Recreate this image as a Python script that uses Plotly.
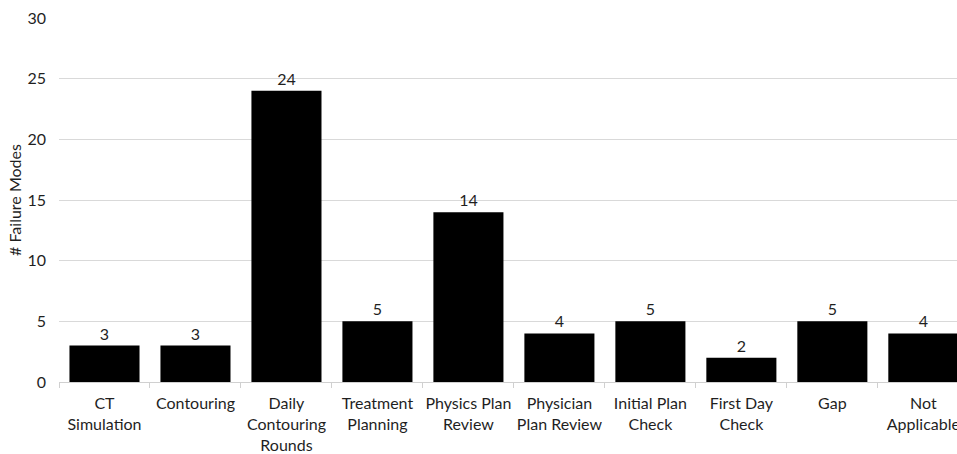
import plotly.graph_objects as go

categories = ["CT<br>Simulation", "Contouring", "Daily<br>Contouring<br>Rounds",
              "Treatment<br>Planning", "Physics Plan<br>Review", "Physician<br>Plan Review",
              "Initial Plan<br>Check", "First Day<br>Check", "Gap", "Not<br>Applicable"]
values = [3, 3, 24, 5, 14, 4, 5, 2, 5, 4]
y_ticks = [0, 5, 10, 15, 20, 25, 30]

font_family = "Lato, Open Sans, sans-serif"
text_color = "#1f1f1f"
fs = 16

fig = go.Figure(go.Bar(
    x=categories,
    y=values,
    text=[str(v) for v in values],
    textposition="outside",
    textfont=dict(family=font_family, size=fs, color=text_color),
    marker=dict(color="black", line=dict(width=0)),
    width=0.77,
    cliponaxis=False,
))

fig.update_layout(
    width=957, height=454,
    margin=dict(l=59, r=0, t=18, b=72),
    plot_bgcolor="white", paper_bgcolor="white",
    showlegend=False,
    font=dict(family=font_family, size=fs, color=text_color),
    xaxis=dict(
        type="category",
        categoryorder="array", categoryarray=categories,
        range=[-0.5, 9.37],
        automargin=False,
        tickangle=0,
        showgrid=False,
        showline=True, linecolor="#d0d0d0", linewidth=1,
        ticks="outside", ticklen=5, tickcolor="#d0d0d0",
        tickson="boundaries",
        tickfont=dict(family=font_family, size=fs, color=text_color),
        ticklabelstandoff=7,
        ticklabeloverflow="allow",
        zeroline=False,
    ),
    yaxis=dict(
        range=[0, 30],
        tickvals=y_ticks,
        automargin=False,
        showgrid=True, gridcolor="#d9d9d9", gridwidth=1,
        zeroline=False,
        showline=False,
        ticks="",
        tickfont=dict(family=font_family, size=fs, color=text_color),
        ticklabelstandoff=12,
        title=dict(text="# Failure Modes", font=dict(family=font_family, size=fs, color=text_color), standoff=1),
    ),
)

fig.write_html("out.html")
